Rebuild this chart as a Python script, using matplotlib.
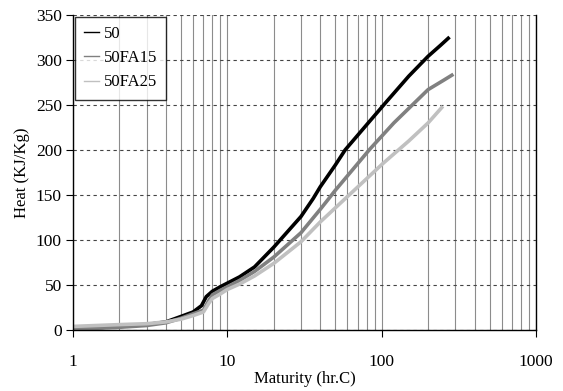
import matplotlib
matplotlib.use("Agg")
import matplotlib.pyplot as plt
from matplotlib.ticker import LogLocator, NullFormatter, FixedLocator

plt.rcParams['font.family'] = ['Liberation Serif', 'DejaVu Serif']

# Series
x_50 = [1, 2, 3, 4, 5, 6, 6.8, 7.3, 8, 9, 10, 12, 15, 20, 30, 36, 40, 50, 58, 80, 108, 150, 200, 240, 270]
y_50 = [1, 4, 6, 9, 15, 20, 27, 37, 43, 48, 52, 59, 70, 92, 126, 146, 159, 183, 200, 228, 254, 282, 304, 316, 324]

x_fa15 = [1, 2, 3, 4, 5, 6, 7, 7.6, 8, 9, 10, 12, 15, 20, 30, 40, 45, 50, 84, 120, 200, 250, 285]
y_fa15 = [1, 3, 5, 8, 13, 18, 22, 33, 39, 44, 48, 55, 65, 81, 108, 134, 145, 155, 201, 230, 267, 277, 283]

x_fa25 = [1, 2, 3, 4, 5, 6, 7, 7.6, 8, 9, 10, 12, 15, 20, 30, 40, 59, 102, 150, 200, 245]
y_fa25 = [4, 6, 7, 9, 12, 16, 20, 30, 35, 40, 45, 51, 60, 74, 98, 120, 147, 185, 210, 230, 247]

labels = ['50', '50FA15', '50FA25']
x_ticks = [1, 10, 100, 1000]
y_ticks = [0, 50, 100, 150, 200, 250, 300, 350]

fig = plt.figure(figsize=(5.63, 3.91), dpi=100)
ax = fig.add_axes([0.1297, 0.156, 0.8223, 0.806])

ax.plot(x_50, y_50, color='black', lw=2.6, label=labels[0])
ax.plot(x_fa15, y_fa15, color='#808080', lw=2.6, label=labels[1])
ax.plot(x_fa25, y_fa25, color='#c0c0c0', lw=2.6, label=labels[2])

ax.set_xscale('log')
ax.set_xlim(1, 1000)
ax.set_ylim(0, 350)
ax.xaxis.set_major_locator(FixedLocator(x_ticks))
ax.set_xticklabels(['1', '10', '100', '1000'])
ax.xaxis.set_minor_locator(LogLocator(base=10, subs=range(2, 10)))
ax.xaxis.set_minor_formatter(NullFormatter())
ax.set_yticks(y_ticks)

# grid: solid verticals, dashed horizontals
ax.grid(True, which='both', axis='x', color='#8c8c8c', lw=0.8, ls='-')
ax.grid(True, which='major', axis='y', color='#444444', lw=0.8, ls=(0, (3, 3)))
ax.set_axisbelow(True)

ax.spines['top'].set_visible(False)
for s in ['left', 'bottom', 'right']:
    ax.spines[s].set_color('black')
    ax.spines[s].set_linewidth(1.0)

ax.tick_params(axis='x', which='major', direction='out', length=5, pad=12, labelsize=12.5)
ax.tick_params(axis='x', which='minor', length=0)
ax.tick_params(axis='y', direction='out', length=5, pad=3, labelsize=12.5)

ax.set_xlabel('Maturity (hr.C)', fontsize=12, labelpad=1)
ax.set_ylabel('Heat (KJ/Kg)', fontsize=12, labelpad=4)

leg = ax.legend(loc='upper left', fontsize=12, frameon=True, fancybox=False,
                edgecolor='black', handlelength=0.9, handletextpad=0.3,
                borderaxespad=0.1, labelspacing=0.5, borderpad=0.55)
leg.get_frame().set_linewidth(1.0)
for line in leg.get_lines():
    line.set_linewidth(1.0)

fig.savefig('out.png', dpi=100)
